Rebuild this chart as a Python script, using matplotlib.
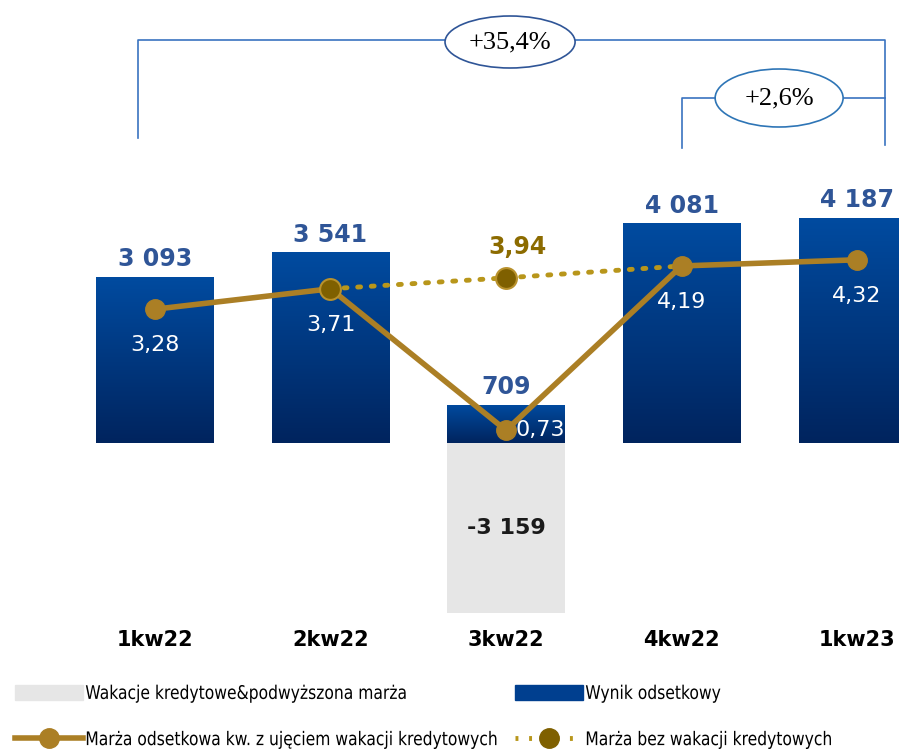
import matplotlib
matplotlib.use("Agg")
import matplotlib.pyplot as plt
import numpy as np
from matplotlib.patches import Ellipse, Patch
from matplotlib.lines import Line2D
from matplotlib import transforms
from matplotlib.patheffects import AbstractPathEffect

quarters = ["1kw22", "2kw22", "3kw22", "4kw22", "1kw23"]
wynik = [3093, 3541, 709, 4081, 4187]
wakacje = [0, 0, -3159, 0, 0]
marza = [3.28, 3.71, 0.73, 4.19, 4.32]
marza_bez = [np.nan, 3.71, 3.94, 4.19, np.nan]
growth_labels = ["+35,4%", "+2,6%"]

gold = "#ab7f25"
dot_gold = "#b8961b"
dark_gold = "#7f6000"
blue_txt = "#2f5597"
line_blue = "#3a73c0"


class Squeeze(AbstractPathEffect):
    # narrow the glyphs horizontally (condensed look)
    def __init__(self, sx):
        super().__init__()
        self.sx = sx

    def draw_path(self, renderer, gc, tpath, affine, rgbFace=None):
        renderer.draw_path(gc, tpath, transforms.Affine2D().scale(self.sx, 1) + affine, rgbFace)


fig = plt.figure(figsize=(8.99, 7.55), dpi=100)
ax = fig.add_axes([0, 0, 1, 1])
ax.axis("off")

x = np.arange(len(quarters))
bw = 0.667

# grey bar (credit holidays)
ax.bar(x, wakacje, bw, color="#e6e6e6", zorder=1)

# blue bars with vertical gradient
bars = ax.bar(x, wynik, bw, color="#003f8f", zorder=2)
grad = np.linspace(0, 1, 256).reshape(-1, 1)
cmap = matplotlib.colors.LinearSegmentedColormap.from_list("g", ["#004ba0", "#00245e"])
for b in bars:
    x0, y0 = b.get_x(), b.get_y()
    im = ax.imshow(grad, extent=[x0, x0 + b.get_width(), y0, y0 + b.get_height()],
                   cmap=cmap, aspect="auto", zorder=2.1, origin="upper")
    im.set_clip_path(b)
ax.set_xlim(-0.883, 4.239)
ax.set_ylim(-5799, 8234)

for xi, v in zip(x, wynik):
    ax.annotate(f"{v:,}".replace(",", " "), (xi, v), xytext=(0, 4), textcoords="offset points",
                ha="center", va="bottom", fontsize=17, fontweight="bold", color=blue_txt, zorder=5)
for xi, v in zip(x, wakacje):
    if v < 0:
        ax.text(xi, v / 2, f"{v:,}".replace(",", " "), ha="center", va="center",
                fontsize=16, fontweight="bold", color="#1a1a1a", zorder=5)

tr = transforms.blended_transform_factory(ax.transData, fig.transFigure)


def fy(p):
    return 1 - p / 755


for xi, q in zip(x, quarters):
    ax.text(xi, fy(640), q, transform=tr, ha="center", va="center", fontsize=15,
            fontweight="bold", color="black")

# margin lines on secondary axis
ax2 = ax.twinx()
ax2.set_ylim(-6.105, 9.789)
ax2.axis("off")
ax2.plot(x, marza_bez, ls=(0, (0.6, 2.2)), color=dot_gold, lw=3.5, zorder=3,
         dash_capstyle="round")
ax2.plot(x, marza, color=gold, lw=4, marker="o", ms=14, mfc=gold, mec=gold, zorder=4,
         solid_capstyle="round")
ax2.plot(x[1:3], marza_bez[1:3], ls="none", marker="o", ms=15, mfc=dark_gold, mec="#b8912c",
         mew=1.5, zorder=5)

for xi, v in zip(x, marza):
    s = f"{v:.2f}".replace(".", ",")
    if v < 1:
        ax2.annotate(s, (xi, v), xytext=(7, 0), textcoords="offset points", ha="left",
                     va="center", fontsize=16, color="white", zorder=6)
    else:
        ax2.annotate(s, (xi, v), xytext=(0, -26), textcoords="offset points", ha="center",
                     va="center", fontsize=16, color="white", zorder=6)
ax2.annotate(f"{marza_bez[2]:.2f}".replace(".", ","), (x[2], marza_bez[2]), xytext=(8, 22),
             textcoords="offset points", ha="center", va="center", fontsize=17,
             fontweight="bold", color="#8c6b00", zorder=6)

# growth brackets
ax.plot([x[0] - 0.097, x[0] - 0.097, x[4] + 0.16, x[4] + 0.16],
        [fy(138), fy(40), fy(40), fy(145)], transform=tr, color=line_blue, lw=1.2, clip_on=False)
ax.plot([x[3], x[3], x[4] + 0.16], [fy(148), fy(98), fy(98)], transform=tr,
        color=line_blue, lw=1.2, clip_on=False)
for (cx, cy, w, h, ec), lab in zip([(2.023, 42, 0.741, 52, "#2f5597"),
                                    (3.556, 98, 0.729, 58, "#2e75b6")], growth_labels):
    ax.add_patch(Ellipse((cx, fy(cy)), w, h / 755, transform=tr, facecolor="white",
                         edgecolor=ec, lw=1.2, zorder=6, clip_on=False))
    ax.text(cx, fy(cy), lab, transform=tr, ha="center", va="center", fontsize=19,
            family="Liberation Serif", color="black", zorder=7)

# legend: two columns placed separately
leg_kw = dict(loc="center left", frameon=False, handlelength=3.6, handleheight=0.8,
              handletextpad=0.15, labelspacing=1.45, borderpad=0, borderaxespad=0,
              prop={"size": 13.5})
col1 = fig.legend([Patch(color="#e6e6e6"),
                   Line2D([], [], color=gold, lw=4, marker="o", ms=14, mfc=gold, mec=gold)],
                  ["Wakacje kredytowe&podwyższona marża",
                   "Marża odsetkowa kw. z ujęciem wakacji kredytowych"],
                  bbox_to_anchor=(15 / 899, fy(716.5)), **leg_kw)
col2 = fig.legend([Patch(color="#003f8f"),
                   Line2D([], [], ls=(0, (0.6, 2.2)), color=dot_gold, lw=3.5, marker="o", ms=14,
                          mfc=dark_gold, mec=dark_gold)],
                  ["Wynik odsetkowy", "Marża bez wakacji kredytowych"],
                  bbox_to_anchor=(515 / 899, fy(716.5)), **leg_kw)
for lg in (col1, col2):
    for t in lg.get_texts():
        t.set_path_effects([Squeeze(0.83)])

fig.savefig("out.png", dpi=100)
